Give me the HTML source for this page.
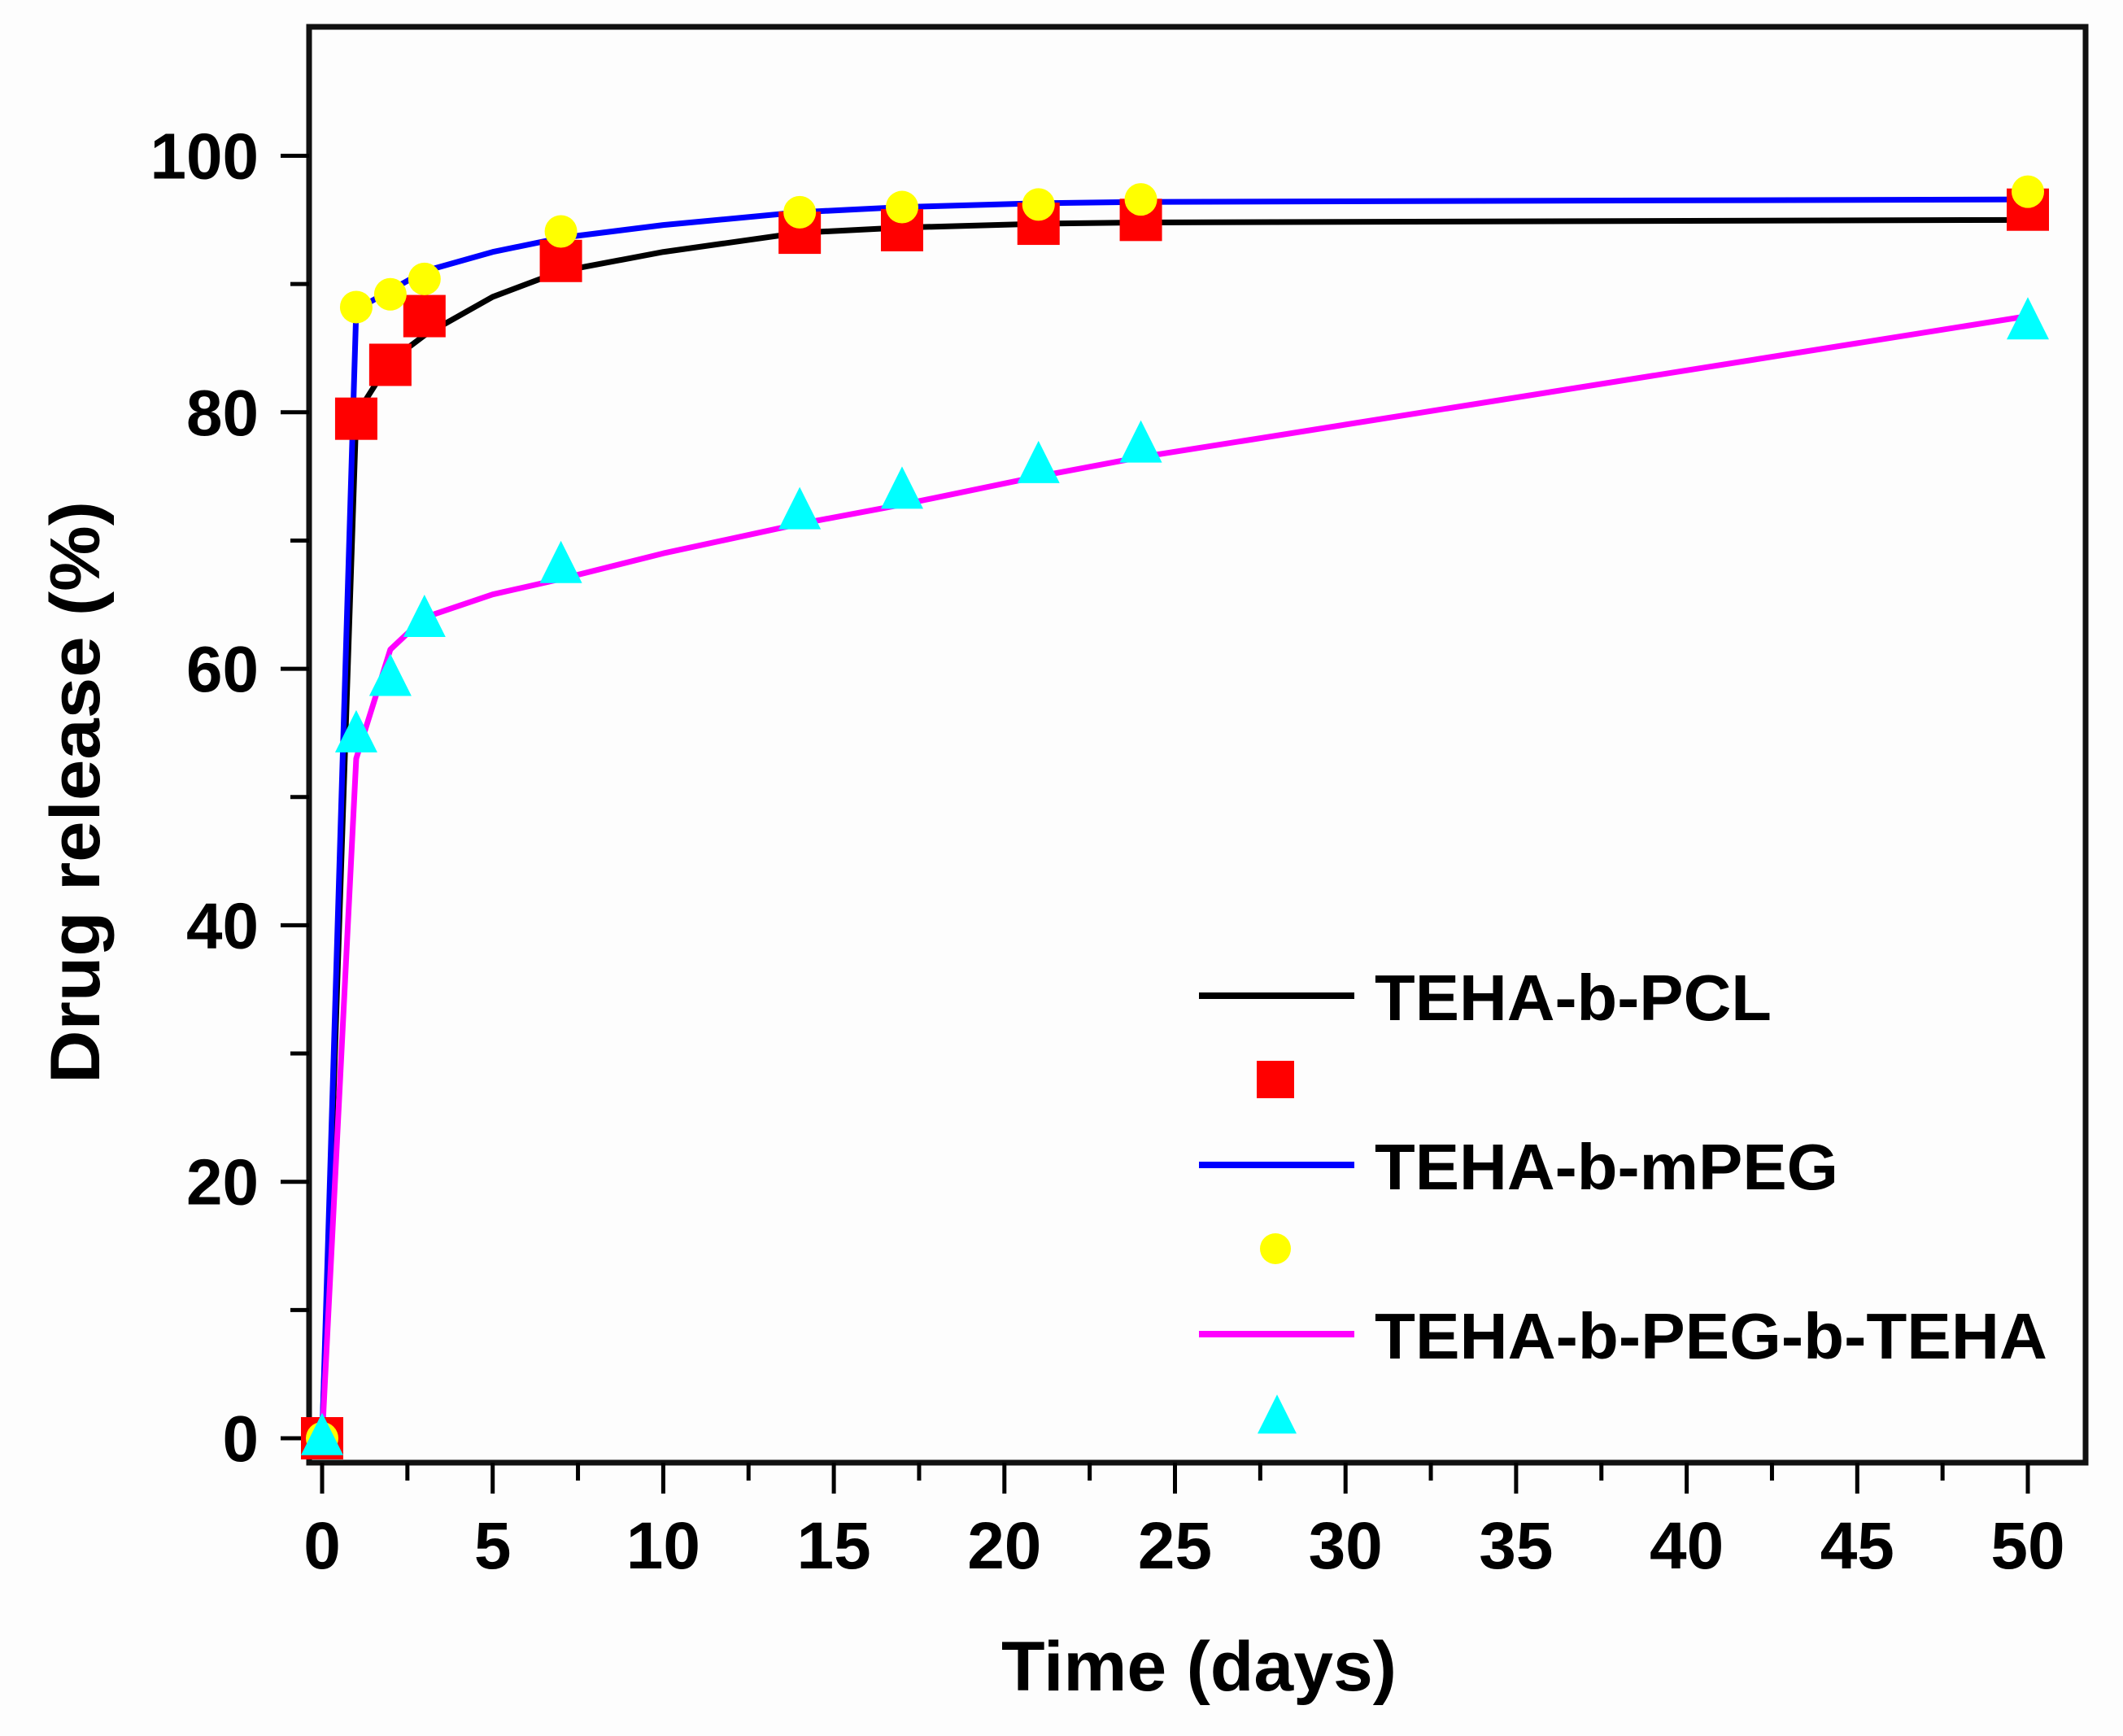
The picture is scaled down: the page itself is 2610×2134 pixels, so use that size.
<!DOCTYPE html>
<html><head><meta charset="utf-8"><style>
html,body{margin:0;padding:0;background:#fdfdfd;}
svg{display:block;}
text{font-family:"Liberation Sans Narrow","Liberation Sans",sans-serif;font-weight:bold;fill:#000;}
</style></head><body>
<svg id="chart" width="2610" height="2134" viewBox="0 0 2610 2134">
<g id="axes"></g>
<g id="series"></g>
<g id="legend"></g>
</svg>
<script>
const times = [0,1,2,3,7,14,17,21,24,50];
const pclValues = [0,79.5,83.7,87.5,91.8,94,94.2,94.7,95,95.8];
const mpegValues = [0,88.2,89.2,90.4,94.1,95.6,96,96.2,96.6,97.2];
const pegTehaValues = [0,54.8,59.2,63.8,68,72.2,73.8,75.8,77.4,87];
const fitTimes = [0,1,2,3,5,7,10,14,17,21,24,50];
const pclFit = [0,79.8,84,86,89,91,92.5,94,94.4,94.7,94.8,95];
const mpegFit = [0,88,89.5,91,92.5,93.6,94.6,95.6,96,96.3,96.4,96.6];
const pegTehaFit = [0,53,61.5,64,65.8,67,69,71.3,72.8,75,76.5,87.5];
const xTicks = [0,5,10,15,20,25,30,35,40,45,50];
const yTicks = [0,20,40,60,80,100];

const NS='http://www.w3.org/2000/svg';
const X0=396, XS=(2493-396)/50, Y0=1768, YS=(1768-191.5)/100;
function xs(v){return X0+v*XS;}
function ys(v){return Y0-v*YS;}
function mk(tag,attrs,parent,txt){const e=document.createElementNS(NS,tag);for(const k in attrs)e.setAttribute(k,attrs[k]);if(txt!==undefined)e.textContent=txt;parent.appendChild(e);return e;}
const axes=document.getElementById('axes'), series=document.getElementById('series'), legend=document.getElementById('legend');

let fr=mk('rect',{x:380,y:33,width:2184,height:1765,fill:'none',stroke:'#111','stroke-width':7},axes);


for(let v=0;v<=100;v+=10){
  const major=v%20===0;
  let t=mk('line',{x1:major?345:357,x2:380,y1:ys(v),y2:ys(v),stroke:'#000','stroke-width':5},axes);
  
  
}
yTicks.forEach(v=>{
  let t=mk('text',{x:318,y:ys(v)+28,'text-anchor':'end','font-size':80},axes,String(v));
  
  
});
for(let v=0;v<=50;v+=2.5){
  const major=v%5===0;
  let t=mk('line',{x1:xs(v),x2:xs(v),y1:1798,y2:major?1836:1820,stroke:'#000','stroke-width':5},axes);
  
  
}
xTicks.forEach(v=>{
  let t=mk('text',{x:xs(v),y:1928,'text-anchor':'middle','font-size':82},axes,String(v));
  
  
});
let xt=mk('text',{x:1474,y:2078,'text-anchor':'middle','font-size':86,textLength:486,lengthAdjust:'spacingAndGlyphs'},axes,'Time (days)');


let yt=mk('text',{x:0,y:0,'text-anchor':'middle','font-size':86,textLength:716,lengthAdjust:'spacingAndGlyphs',transform:'translate(122,974) rotate(-90)'},axes,'Drug release (%)');



function line(vals,color,name){
  const pts=fitTimes.map((t,i)=>xs(t)+','+ys(vals[i])).join(' ');
  let p=mk('polyline',{points:pts,fill:'none',stroke:color,'stroke-width':7,'stroke-linejoin':'round'},series);
  
  
}
function square(cx,cy,s,parent){return mk('rect',{x:cx-s/2,y:cy-s/2,width:s,height:s,fill:'#ff0000'},parent);}
function circle(cx,cy,r,parent){return mk('circle',{cx:cx,cy:cy,r:r,fill:'#ffff00'},parent);}
function tri(cx,cy,s,parent){return mk('polygon',{points:`${cx},${cy-s*0.6} ${cx-s/2},${cy+s*0.4} ${cx+s/2},${cy+s*0.4}`,fill:'#00ffff'},parent);}

line(pclFit,'#000','pcl-fit-line');
line(mpegFit,'#0000ff','mpeg-fit-line');
line(pegTehaFit,'#ff00ff','peg-teha-fit-line');
times.forEach((t,i)=>{
  let e=square(xs(t),ys(pclValues[i]),52,series);
  
  
});
times.forEach((t,i)=>{
  let e=circle(xs(t),ys(mpegValues[i]),20,series);
  
  
});
times.forEach((t,i)=>{
  let e=tri(xs(t),ys(pegTehaValues[i]),52,series);
  
  
});

const legItems=[
 {y:1224,color:'#000',label:'TEHA-b-PCL',w:488,name:'legend-pcl'},
 {y:1432,color:'#0000ff',label:'TEHA-b-mPEG',w:570,name:'legend-mpeg'},
 {y:1640,color:'#ff00ff',label:'TEHA-b-PEG-b-TEHA',w:827,name:'legend-peg-teha'}
];
legItems.forEach((it,i)=>{
  let l=mk('line',{x1:1474,x2:1665,y1:it.y,y2:it.y,stroke:it.color,'stroke-width':8},legend);
  
  
  let t=mk('text',{x:1690,y:it.y+30,'font-size':80,textLength:it.w,lengthAdjust:'spacingAndGlyphs'},legend,it.label);
  
  
});
let ls=square(1568,1327,46,legend);


let lc=circle(1568,1535,19,legend);


let lt=tri(1570,1743,48,legend);


</script>
</body></html>
